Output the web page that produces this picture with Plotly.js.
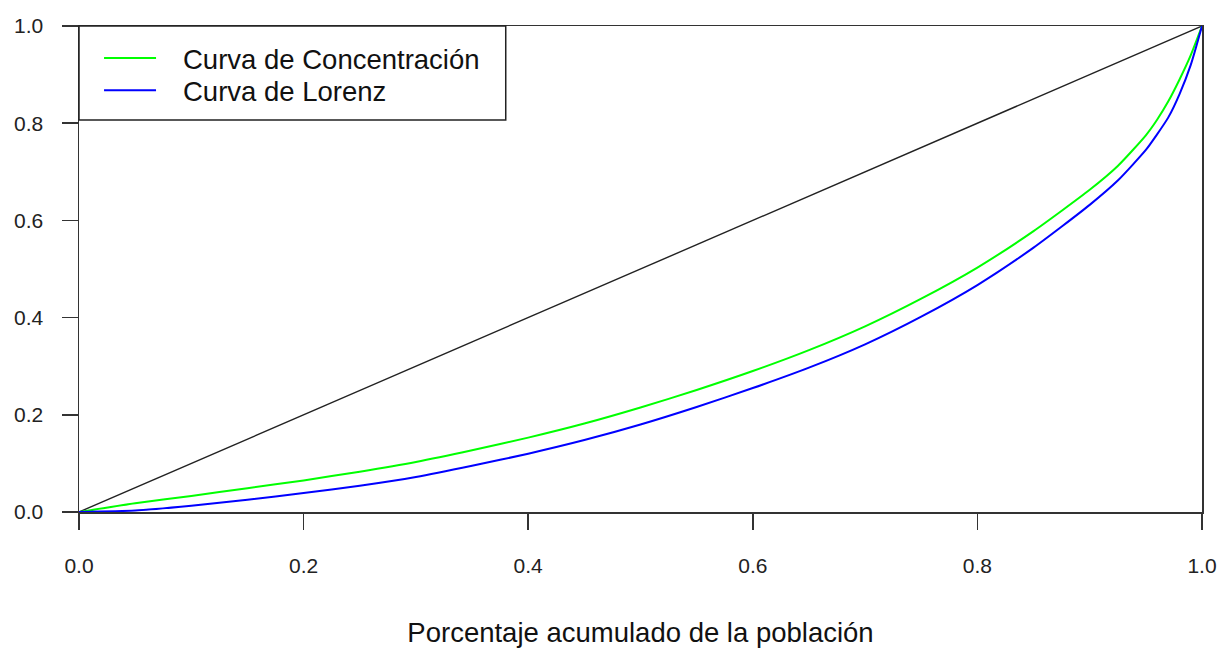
<!DOCTYPE html>
<html>
<head>
<meta charset="utf-8">
<script src="https://cdn.plot.ly/plotly-3.0.1.min.js"></script>
<style>html,body{margin:0;padding:0;background:#fff}#chart{width:1217px;height:648px}</style>
</head>
<body>
<div id="chart"></div>
<script>
// Cumulative population share
const poblacion = [0, 0.05, 0.1, 0.15, 0.2, 0.25, 0.3, 0.35, 0.4, 0.45, 0.5, 0.55, 0.6, 0.65, 0.7, 0.75, 0.8, 0.85, 0.9, 0.925, 0.95, 0.96, 0.97, 0.98, 0.99, 1.0];
// Concentration curve (green)
const concentracion = [0, 0.018, 0.033, 0.049, 0.065, 0.083, 0.103, 0.127, 0.153, 0.182, 0.215, 0.251, 0.290, 0.333, 0.382, 0.439, 0.503, 0.578, 0.663, 0.712, 0.775, 0.807, 0.845, 0.89, 0.94, 1.0];
// Lorenz curve (blue)
const lorenz = [0, 0.003, 0.013, 0.025, 0.039, 0.054, 0.072, 0.095, 0.120, 0.148, 0.180, 0.216, 0.255, 0.297, 0.345, 0.402, 0.467, 0.544, 0.632, 0.682, 0.745, 0.777, 0.812, 0.86, 0.92, 1.0];
// Equality line
const igualdadX = [0, 1];
const igualdadY = [0, 1];
const ticks = [0, 0.2, 0.4, 0.6, 0.8, 1.0];
const tickLabels = ["0.0", "0.2", "0.4", "0.6", "0.8", "1.0"];
const legendNames = ["Curva de Concentración", "Curva de Lorenz"];
const xTitle = "Porcentaje acumulado de la población";

const FONT = "Liberation Sans, Arial, sans-serif";
const green = "rgb(0,255,0)";
const blue = "rgb(0,0,255)";

const traces = [
  {x: igualdadX, y: igualdadY, mode: "lines", line: {color: "#222", width: 1.4}, showlegend: false, hoverinfo: "skip"},
  {x: poblacion, y: concentracion, mode: "lines", name: legendNames[0], line: {color: green, width: 2, shape: "spline", smoothing: 0.6}, showlegend: false},
  {x: poblacion, y: lorenz, mode: "lines", name: legendNames[1], line: {color: blue, width: 2, shape: "spline", smoothing: 0.6}, showlegend: false}
];

const axisCommon = {
  range: [0, 1],
  tickvals: ticks,
  ticktext: tickLabels,
  ticks: "outside",
  ticklen: 16,
  tickwidth: 1.5,
  tickcolor: "#333",
  showline: true,
  mirror: true,
  linecolor: "#333",
  linewidth: 1.5,
  showgrid: false,
  zeroline: false,
  tickfont: {family: FONT, size: 21, color: "#222"},
  automargin: false
};

const legendBoxRight = 0.380, legendBoxBottom = 0.8066;
const lineX0 = 0.0223, lineX1 = 0.0686, textX = 0.0908;
const rowY = [0.932, 0.866];

const layout = {
  width: 1217,
  height: 648,
  margin: {l: 79, r: 15, t: 26, b: 136},
  paper_bgcolor: "#fff",
  plot_bgcolor: "#fff",
  showlegend: false,
  xaxis: Object.assign({}, axisCommon, {
    ticklabelstandoff: 18,
    title: {text: xTitle, font: {family: FONT, size: 27.5, color: "#111"}, standoff: 49}
  }),
  yaxis: Object.assign({}, axisCommon, {ticklabelstandoff: 14}),
  shapes: [
    {type: "rect", xref: "paper", yref: "paper", x0: 0, x1: legendBoxRight, y0: legendBoxBottom, y1: 1,
     line: {color: "#222", width: 1.5}, fillcolor: "#fff", layer: "above"},
    {type: "line", xref: "paper", yref: "paper", x0: lineX0, x1: lineX1, y0: 0.934, y1: 0.934, line: {color: green, width: 2}},
    {type: "line", xref: "paper", yref: "paper", x0: lineX0, x1: lineX1, y0: 0.868, y1: 0.868, line: {color: blue, width: 2}}
  ],
  annotations: legendNames.map((n, i) => ({
    text: n, xref: "paper", yref: "paper", x: textX, y: rowY[i],
    xanchor: "left", yanchor: "middle", showarrow: false,
    font: {family: FONT, size: 27.5, color: "#111"}
  }))
};

Plotly.newPlot("chart", traces, layout, {displayModeBar: false, staticPlot: true});
</script>
</body>
</html>
